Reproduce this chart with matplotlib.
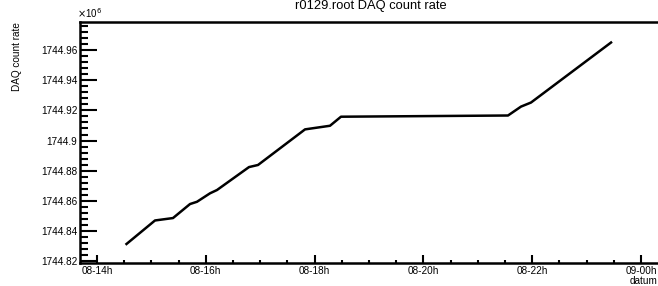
import matplotlib
matplotlib.use("Agg")
import matplotlib.pyplot as plt
from matplotlib.ticker import MultipleLocator, FuncFormatter

plt.rcParams['font.family'] = ['Liberation Sans', 'DejaVu Sans']

# hours counted from day 08, 00:00
stunden = [14.542, 15.066, 15.397, 15.710, 15.838, 16.077, 16.206, 16.794,
           16.960, 17.824, 18.283, 18.485, 21.555, 21.794, 21.978, 23.449]
# DAQ count rate in units of 1e6
rate = [1744.8314, 1744.8470, 1744.8486, 1744.8579, 1744.8594, 1744.8650,
        1744.8672, 1744.8824, 1744.8838, 1744.9074, 1744.9098, 1744.9158,
        1744.9166, 1744.9225, 1744.9252, 1744.9650]

xticks = [14, 16, 18, 20, 22, 24]
xticklabels = ["08-14h", "08-16h", "08-18h", "08-20h", "08-22h", "09-00h"]

fig = plt.figure(figsize=(6.58, 2.86), dpi=100)
ax = fig.add_axes([80 / 658, 1 - 263 / 286, 1 - 80 / 658, (263 - 22) / 286])

ax.plot(stunden, rate, color='black', linewidth=1.8, solid_joinstyle='round')

ax.set_xlim(14 - 17 / 54.4, 24 + 17 / 54.4)
ax.set_ylim(1744.8188, 1744.9786)

ax.set_xticks(xticks)
ax.set_xticklabels(xticklabels)
ax.xaxis.set_minor_locator(MultipleLocator(0.5))
ax.yaxis.set_major_locator(MultipleLocator(0.02))
ax.yaxis.set_minor_locator(MultipleLocator(0.004))
ax.yaxis.set_major_formatter(FuncFormatter(lambda v, p: "%g" % round(v, 4)))

ax.tick_params(axis='x', which='major', direction='in', length=5.5, width=1.5,
               labelsize=7.2, pad=2)
ax.tick_params(axis='x', which='minor', direction='in', length=2.5, width=1.5)
ax.tick_params(axis='y', which='major', direction='in', length=12.5, width=1.5,
               labelsize=7.2, pad=2)
ax.tick_params(axis='y', which='minor', direction='in', length=6, width=1.5)

for s in ['left', 'bottom', 'top']:
    ax.spines[s].set_linewidth(1.8)
ax.spines['right'].set_visible(False)

fig.text(371 / 658, 1 - 8.5 / 286, "r0129.root DAQ count rate", ha='center',
         va='baseline', fontsize=9.3)
fig.text(17 / 658, 1 - 22 / 286, "DAQ count rate", rotation=90, ha='center',
         va='top', fontsize=7.2)
fig.text(657 / 658, 1 - 284 / 286, "datum", ha='right', va='baseline',
         fontsize=7.2)
fig.text(77 / 658, 1 - 18.5 / 286, r"$\times$10$^{6}$", ha='left',
         va='baseline', fontsize=7)

fig.savefig("out.png", dpi=100)
